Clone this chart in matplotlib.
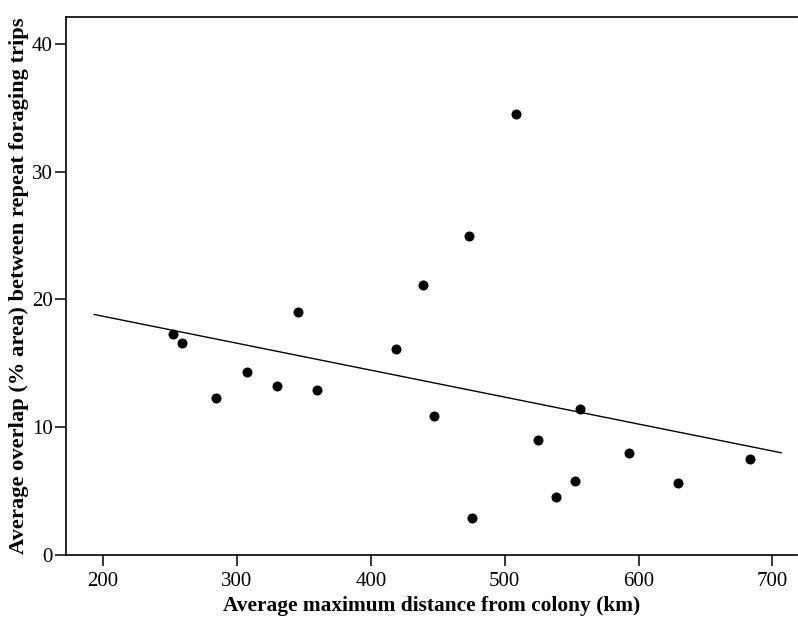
import matplotlib
matplotlib.use("Agg")
import matplotlib.pyplot as plt
import numpy as np

# distance (km) and overlap (% area)
distance_km = [252.5, 259.2, 284.4, 307.8, 329.9, 345.9, 359.6, 418.8, 438.8,
               447.2, 473.6, 475.7, 508.2, 524.8, 538.1, 552.8, 555.9, 592.8,
               629.4, 683.0]
overlap_pct = [17.3, 16.6, 12.3, 14.3, 13.2, 19.0, 12.9, 16.1, 21.1,
               10.9, 25.0, 2.9, 34.5, 9.0, 4.5, 5.8, 11.4, 8.0,
               5.6, 7.5]

# fitted line end points
fit_x = [193.5, 706.5]
fit_y = [18.82, 8.0]

x_ticks = [200, 300, 400, 500, 600, 700]
y_ticks = [0, 10, 20, 30, 40]

plt.rcParams["font.family"] = ["Liberation Serif", "DejaVu Serif"]

fig = plt.figure(figsize=(7.98, 6.21), dpi=100)
ax = fig.add_axes([66 / 798, 66 / 621, 731 / 798, 538 / 621])

ax.scatter(distance_km, overlap_pct, s=52, color="black", zorder=3, linewidths=0)
ax.plot(fit_x, fit_y, color="black", linewidth=1.0)

ax.set_xlim(172.4, 718.3)
ax.set_ylim(0, 42.1)
ax.set_xticks(x_ticks)
ax.set_yticks(y_ticks)
ax.tick_params(direction="out", length=8, width=1.1, labelsize=15, pad=4)
ax.tick_params(axis="y", pad=1.5)

for side in ["left", "bottom", "top"]:
    ax.spines[side].set_linewidth(1.2)
ax.spines["right"].set_visible(False)

ax.set_xlabel("Average maximum distance from colony (km)", fontsize=15.4,
              fontweight="bold", labelpad=4)
ax.set_ylabel("Average overlap (% area) between repeat foraging trips", fontsize=16.2,
              fontweight="bold")
ax.yaxis.set_label_coords(-37 / 731, 0.5)

fig.savefig("out.png", dpi=100)
